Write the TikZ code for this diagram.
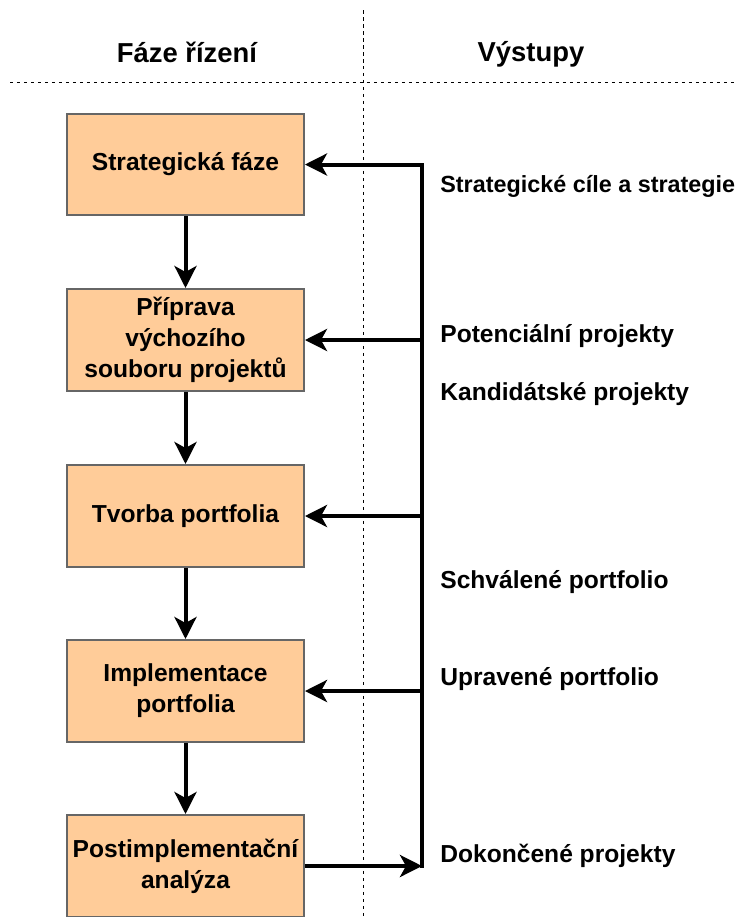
\documentclass[tikz,border=0pt]{standalone}
\usepackage{fontspec}
\setmainfont{Liberation Sans}
\usetikzlibrary{arrows.meta, positioning}
\definecolor{PhaseFill}{HTML}{FFCC99}
\definecolor{PhaseLine}{HTML}{666666}

\begin{document}
\begin{tikzpicture}[x=0.02cm, y=-0.02cm,
  phase/.style={draw=PhaseLine, line width=0.04cm, fill=PhaseFill,
    minimum width=4.74cm, minimum height=2.04cm, inner sep=0pt,
    align=center, font=\fontsize{14}{17.6}\selectfont\bfseries},
  output/.style={anchor=base west, inner sep=0pt,
    font=\fontsize{14}{17}\selectfont\bfseries},
  head/.style={anchor=base, inner sep=0pt,
    font=\fontsize{15.6}{18}\selectfont\bfseries},
  flow/.style={line width=0.08cm,
    -{Stealth[length=0.44cm, width=0.44cm, inset=0.12cm]}},
  sep/.style={dash pattern=on 0.07cm off 0.07cm, line width=0.02cm}]
\useasboundingbox (0,0) rectangle (736,917);
% --- Column separators ---
\draw[sep] (363,10) -- (363,917);
\draw[sep] (10,82) -- (736,82);
\node[head] (hphase) at (187,62) {Fáze řízení};
\node[head] (hout) at (531,61) {Výstupy};
% --- Phases ---
\node[phase] (strat) at (185.5,164.5) {Strategická fáze};
\node[phase] (prep) at (185.5,340) {Příprava\\výchozího\\souboru projektů};
\node[phase] (tvorba) at (185.5,516) {Tvorba portfolia};
\node[phase] (impl) at (185.5,691) {Implementace\\portfolia};
\node[phase] (post) at (185.5,866) {Postimplementační\\analýza};
\foreach \a/\b in {strat/prep, prep/tvorba, tvorba/impl, impl/post} {
  \draw[flow] (\a.south) -- (\b.north);
}
% --- Feedback bus ---
\coordinate (busx) at (422,0);
\draw[line width=0.08cm, line cap=rect] (busx |- strat.east) -- (busx |- post.east);
\foreach \b in {strat, prep, tvorba, impl} {
  \draw[flow] (busx |- \b.east) -- (\b.east);
}
\draw[flow] (post.east) -- (busx |- post.east);
% --- Outputs ---
\node[output, font=\fontsize{13.3}{16}\selectfont\bfseries] (cile) at (440,192) {Strategické cíle a strategie};
\node[output] (potencialni) at (440,342) {Potenciální projekty};
\node[output] (kandidatske) at (440,400) {Kandidátské projekty};
\node[output] (schvalene) at (440,588) {Schválené portfolio};
\node[output] (upravene) at (440,685) {Upravené portfolio};
\node[output] (dokoncene) at (440,862) {Dokončené projekty};
\end{tikzpicture}
\end{document}
